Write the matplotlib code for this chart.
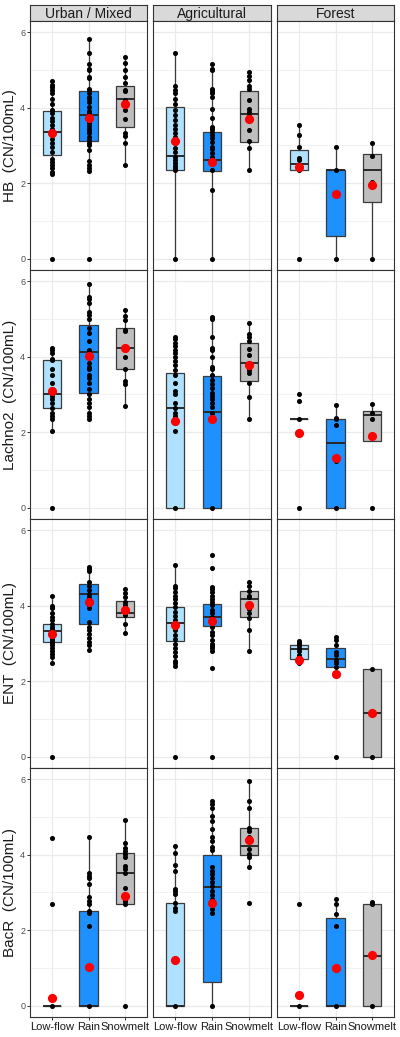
import matplotlib as mpl
mpl.use('Agg')
import matplotlib.pyplot as plt

plt.rcParams['font.family'] = ['Liberation Sans', 'DejaVu Sans']

land_uses = ["Urban / Mixed", "Agricultural", "Forest"]
seasons = ["Low-flow", "Rain", "Snowmelt"]
markers = ["HB", "Lachno2", "ENT", "BacR"]
season_colors = ["#B0E2FF", "#1E90FF", "#BEBEBE"]

# box stats per marker: [land use][season] -> (q1, median, q3, whisker low, whisker high, mean)
hb_stats = [
    [(2.75, 3.36, 3.92, 2.24, 4.71, 3.32), (3.13, 3.82, 4.45, 2.33, 5.83, 3.74), (3.50, 4.23, 4.57, 2.48, 5.35, 4.10)],
    [(2.34, 2.73, 4.03, 0.0, 5.45, 3.12), (2.33, 2.62, 3.36, 0.0, 5.17, 2.56), (3.10, 3.83, 4.44, 2.35, 4.95, 3.71)],
    [(2.34, 2.50, 2.89, 2.34, 3.55, 2.44), (0.59, 2.35, 2.35, 0.0, 2.96, 1.71), (1.51, 2.35, 2.78, 0.0, 3.06, 1.95)],
]
lachno2_stats = [
    [(2.63, 3.00, 3.91, 2.04, 4.24, 3.08), (3.05, 4.13, 4.83, 2.34, 5.94, 4.02), (3.68, 4.24, 4.75, 2.70, 5.25, 4.24)],
    [(0.0, 2.65, 3.57, 0.0, 4.53, 2.30), (0.0, 2.53, 3.49, 0.0, 5.06, 2.34), (3.37, 3.84, 4.37, 2.34, 4.90, 3.79)],
    [(2.34, 2.34, 2.34, 2.34, 2.34, 1.99), (0.0, 1.71, 2.34, 0.0, 2.72, 1.32), (1.77, 2.45, 2.56, 1.77, 2.74, 1.90)],
]
ent_stats = [
    [(3.03, 3.34, 3.53, 2.47, 4.26, 3.26), (3.52, 4.30, 4.57, 2.82, 5.02, 4.10), (3.69, 3.80, 4.13, 3.27, 4.44, 3.89)],
    [(3.07, 3.55, 3.97, 2.40, 5.08, 3.49), (3.47, 3.70, 4.05, 2.80, 4.50, 3.60), (3.70, 4.17, 4.39, 2.80, 4.63, 4.02)],
    [(2.58, 2.85, 2.95, 2.47, 3.07, 2.55), (2.37, 2.59, 2.88, 2.37, 3.18, 2.19), (0.0, 1.16, 2.33, 0.0, 2.33, 1.16)],
]
bacr_stats = [
    [(0.0, 0.0, 0.0, 0.0, 0.0, 0.21), (0.0, 0.0, 2.50, 0.0, 4.48, 1.03), (2.69, 3.53, 4.04, 2.69, 4.93, 2.91)],
    [(0.0, 0.0, 2.71, 0.0, 4.22, 1.22), (0.62, 3.14, 4.00, 0.0, 5.43, 2.72), (3.99, 4.24, 4.70, 3.67, 5.95, 4.39)],
    [(0.0, 0.0, 0.0, 0.0, 0.0, 0.27), (0.0, 0.0, 2.33, 0.0, 2.83, 1.00), (0.0, 1.33, 2.69, 0.0, 2.76, 1.35)],
]

# individual samples per marker: [land use][season]
hb_points = [
    [[4.71, 4.60, 4.54, 4.47, 4.40, 4.22, 4.09, 3.94, 3.85, 3.72, 3.66, 3.54, 3.45, 3.38, 3.28, 3.16, 3.06, 2.97, 2.84, 2.63, 2.55, 2.48, 2.40, 2.31, 2.24, 0],
     [5.83, 5.45, 5.17, 5.04, 5.00, 4.82, 4.79, 4.51, 4.47, 4.40, 4.29, 4.22, 4.16, 4.03, 3.91, 3.85, 3.80, 3.72, 3.66, 3.59, 3.52, 3.45, 3.39, 3.32, 3.23, 3.15, 3.07, 3.00, 2.88, 2.60, 2.48, 2.40, 2.33, 0],
     [5.35, 5.19, 5.00, 4.82, 4.66, 4.48, 4.44, 4.20, 4.11, 3.94, 3.69, 3.32, 3.25, 3.07, 2.48]],
    [[5.45, 4.59, 4.47, 4.38, 4.22, 4.10, 3.94, 3.81, 3.67, 3.54, 3.45, 3.34, 3.23, 3.07, 2.93, 2.84, 2.70, 2.62, 2.53, 2.46, 2.40, 2.34, 0],
     [5.17, 5.04, 5.00, 4.51, 4.45, 4.38, 4.29, 3.98, 3.72, 3.50, 3.43, 3.37, 3.28, 3.19, 3.10, 2.97, 2.90, 2.79, 2.70, 2.53, 2.35, 1.82, 0],
     [4.95, 4.84, 4.73, 4.57, 4.51, 4.21, 3.97, 3.88, 3.79, 3.75, 3.42, 3.13, 2.94, 2.35]],
    [[3.55, 3.27, 2.96, 2.68, 2.62, 2.44, 2.34, 0],
     [2.96, 2.35, 0],
     [3.06, 2.71, 2.02, 0]],
]
lachno2_points = [
    [[4.24, 4.18, 4.11, 3.95, 3.91, 3.67, 3.53, 3.30, 3.14, 3.07, 2.96, 2.87, 2.77, 2.63, 2.52, 2.43, 2.34, 2.04, 0],
     [5.94, 5.59, 5.52, 5.43, 5.18, 5.12, 4.99, 4.77, 4.63, 4.41, 4.19, 4.02, 3.84, 3.74, 3.67, 3.53, 3.44, 3.30, 3.14, 3.00, 2.89, 2.78, 2.68, 2.52, 2.43, 2.34],
     [5.25, 5.09, 4.97, 4.72, 4.68, 4.24, 3.99, 3.68, 3.36, 3.27, 2.70]],
    [[4.53, 4.46, 4.37, 4.28, 4.19, 4.11, 4.00, 3.89, 3.77, 3.66, 3.53, 3.30, 3.09, 3.00, 2.77, 2.63, 2.52, 2.43, 2.34, 2.24, 2.04, 0],
     [5.06, 4.99, 4.53, 4.24, 4.18, 3.99, 3.74, 3.67, 3.53, 3.38, 3.27, 3.18, 3.05, 2.96, 2.87, 2.77, 2.66, 2.52, 2.34, 0],
     [4.90, 4.61, 4.53, 4.42, 4.21, 4.04, 3.84, 3.66, 3.57, 3.30, 2.93, 2.34]],
    [[3.02, 2.82, 2.34, 0],
     [2.72, 2.39, 2.34, 2.19, 1.24, 0],
     [2.74, 2.52, 2.36, 0]],
]
ent_points = [
    [[4.26, 4.00, 3.93, 3.82, 3.71, 3.62, 3.53, 3.44, 3.38, 3.31, 3.22, 3.13, 3.07, 3.01, 2.95, 2.87, 2.80, 2.71, 2.63, 2.47, 0],
     [5.02, 4.97, 4.92, 4.63, 4.52, 4.41, 4.30, 4.24, 4.15, 4.02, 3.93, 3.58, 3.44, 3.36, 3.24, 3.14, 3.05, 2.96, 2.82],
     [4.44, 4.33, 4.24, 4.11, 4.02, 3.93, 3.84, 3.76, 3.52, 3.27]],
    [[5.08, 4.53, 4.46, 4.37, 4.26, 4.17, 4.07, 3.97, 3.84, 3.73, 3.62, 3.49, 3.36, 3.22, 3.13, 3.00, 2.89, 2.77, 2.66, 2.54, 2.47, 2.40, 0],
     [5.34, 5.00, 4.50, 4.44, 4.37, 4.26, 4.19, 4.10, 4.02, 3.88, 3.80, 3.71, 3.58, 3.44, 3.30, 3.23, 3.10, 3.00, 2.94, 2.87, 2.80, 2.34, 0],
     [4.63, 4.53, 4.39, 4.26, 4.23, 4.02, 3.92, 3.81, 3.67, 3.37, 2.80]],
    [[3.07, 3.01, 2.95, 2.88, 2.81, 2.70, 2.57, 2.51, 2.47],
     [3.18, 3.09, 2.97, 2.77, 2.70, 2.57, 2.47, 2.37, 0],
     [2.33, 0]],
]
bacr_points = [
    [[4.44, 2.69, 0],
     [4.48, 3.51, 3.44, 3.38, 3.22, 2.87, 2.78, 2.70, 2.52, 2.45, 2.11, 0],
     [4.93, 4.30, 4.17, 4.11, 4.02, 3.95, 3.71, 3.62, 3.53, 3.11, 2.87, 2.78, 2.69, 0]],
    [[4.22, 4.04, 3.73, 3.58, 3.10, 3.03, 2.96, 2.71, 2.59, 2.52, 0],
     [5.43, 5.34, 5.25, 5.03, 4.90, 4.68, 4.46, 4.37, 4.21, 4.12, 3.67, 3.58, 3.49, 3.38, 3.27, 3.18, 3.05, 2.94, 2.82, 2.69, 2.56, 2.45, 0],
     [5.95, 5.43, 5.25, 4.72, 4.63, 4.46, 4.37, 4.15, 4.02, 3.93, 3.67, 2.73]],
    [[2.69, 0],
     [2.83, 2.69, 2.43, 2.11, 0],
     [2.76, 2.69, 0]],
]

all_stats = [hb_stats, lachno2_stats, ent_stats, bacr_stats]
all_points = [hb_points, lachno2_points, ent_points, bacr_points]

W, H = 400, 1037
fig = plt.figure(figsize=(W / 100, H / 100), dpi=100)

col_x = [(30, 147), (153, 271), (277, 394)]
row_top0, row_h = 21, 249
strip_top = 5
border = "#333333"
grid_c = "#EBEBEB"


def fig_rect(x0, x1, ytop, ybot):
    return [x0 / W, 1 - ybot / H, (x1 - x0) / W, (ybot - ytop) / H]


for c, lu in enumerate(land_uses):
    sax = fig.add_axes(fig_rect(col_x[c][0], col_x[c][1], strip_top, row_top0))
    sax.set_facecolor("#D9D9D9")
    sax.set_xticks([])
    sax.set_yticks([])
    for sp in sax.spines.values():
        sp.set_color(border)
        sp.set_linewidth(0.8)
    sax.text(0.5, 0.45, lu, ha="center", va="center", fontsize=10, color="#1A1A1A",
             transform=sax.transAxes)

pos = [1, 2, 3]
for r, mk in enumerate(markers):
    ytop = row_top0 + r * row_h
    for c in range(3):
        ax = fig.add_axes(fig_rect(col_x[c][0], col_x[c][1], ytop, ytop + row_h))

        bstats = []
        for s in range(3):
            q1, med, q3, wlo, whi, mean = all_stats[r][c][s]
            bstats.append(dict(q1=q1, med=med, q3=q3, whislo=wlo, whishi=whi, mean=mean, fliers=[]))
        bp = ax.bxp(bstats, positions=pos, widths=0.5, patch_artist=True,
                    showfliers=False, showcaps=False, showmeans=False, manage_ticks=False,
                    boxprops=dict(edgecolor="#3A3A3A", linewidth=0.9),
                    whiskerprops=dict(color="#3A3A3A", linewidth=0.9),
                    medianprops=dict(color="#2A2A2A", linewidth=1.4))
        for patch, col in zip(bp["boxes"], season_colors):
            patch.set_facecolor(col)
            patch.set_zorder(2)
        for s in range(3):
            pts = all_points[r][c][s]
            ax.plot([pos[s]] * len(pts), pts, "o", color="black", ms=2.6, zorder=4, clip_on=False)
            ax.plot([pos[s]], [bstats[s]["mean"]], "o", color="#FF0000", ms=5.6, zorder=5)

        ax.set_xlim(0.4, 3.6)
        ax.set_ylim(-0.3, 6.3)
        ax.set_yticks([0, 2, 4, 6])
        ax.set_yticks([1, 3, 5], minor=True)
        ax.set_xticks(pos)
        ax.grid(which="major", color=grid_c, lw=0.9, zorder=0)
        ax.grid(which="minor", axis="y", color=grid_c, lw=0.45, zorder=0)
        ax.set_axisbelow(True)
        for sp in ax.spines.values():
            sp.set_color(border)
            sp.set_linewidth(0.8)

        ax.tick_params(axis="both", which="minor", length=0)
        ax.tick_params(axis="both", which="major", color=border, length=2, width=0.7, pad=1.5)
        if c == 0:
            ax.set_yticklabels(["0", "2", "4", "6"], fontsize=6.5, color="#4D4D4D")
        else:
            ax.tick_params(axis="y", which="major", length=0, labelleft=False)
        if r == 3:
            ax.set_xticklabels(seasons, fontsize=8, color="#1A1A1A")
            ax.tick_params(axis="x", pad=1.5)
        else:
            ax.tick_params(axis="x", which="major", length=0, labelbottom=False)

    fig.text(10 / W, 1 - (ytop + row_h / 2) / H, f"{mk}  (CN/100mL)", rotation=90,
             ha="center", va="center", fontsize=11, color="#1A1A1A")

fig.savefig("out.png", dpi=100)
